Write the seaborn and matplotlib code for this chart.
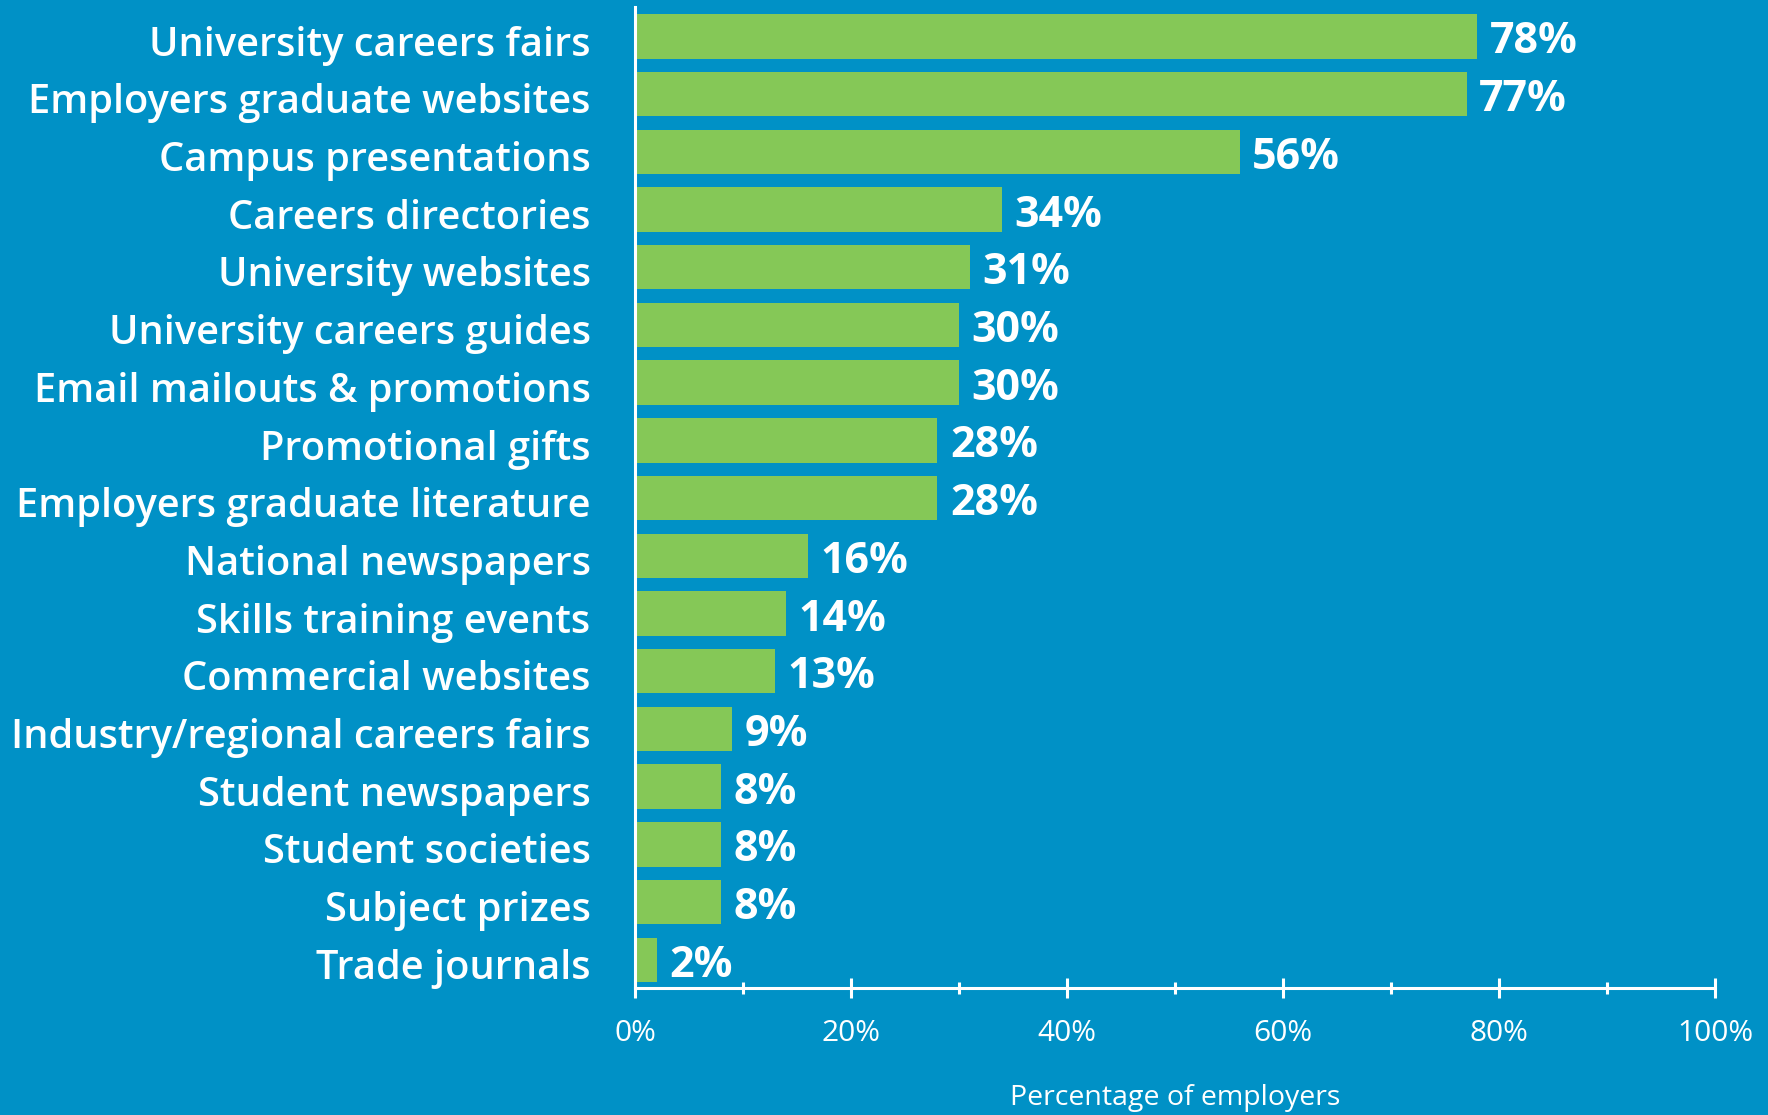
import matplotlib
matplotlib.use("Agg")
import matplotlib.pyplot as plt
import matplotlib.transforms as mtransforms
from matplotlib.ticker import MultipleLocator, FuncFormatter
import seaborn as sns
import pandas as pd

# Recruitment activities used by employers
activities = [
    "University careers fairs",
    "Employers graduate websites",
    "Campus presentations",
    "Careers directories",
    "University websites",
    "University careers guides",
    "Email mailouts & promotions",
    "Promotional gifts",
    "Employers graduate literature",
    "National newspapers",
    "Skills training events",
    "Commercial websites",
    "Industry/regional careers fairs",
    "Student newspapers",
    "Student societies",
    "Subject prizes",
    "Trade journals",
]
share_pct = [78, 77, 56, 34, 31, 30, 30, 28, 28, 16, 14, 13, 9, 8, 8, 8, 2]
x_ticks = [0, 20, 40, 60, 80, 100]
x_label = "Percentage of employers"

BG = "#0091C6"
BAR = "#85C857"
WHITE = "#FFFFFF"

df = pd.DataFrame({"activity": activities, "share": share_pct})

sns.set_theme(style="white")
plt.rcParams["font.family"] = ["Open Sans", "DejaVu Sans"]

fig, ax = plt.subplots(figsize=(17.68, 11.15), dpi=100)
fig.patch.set_facecolor(BG)
ax.set_facecolor(BG)
fig.subplots_adjust(left=635 / 1768, right=1715 / 1768, bottom=1 - 988 / 1115, top=1 - 7 / 1115)

sns.barplot(data=df, x="share", y="activity", orient="h", color=BAR,
            saturation=1, width=0.77, ax=ax, linewidth=0)

ax.set_xlim(0, 100)
ax.set_ylim(16.49, -0.51)

# Value labels at the end of each bar
for i, v in enumerate(share_pct):
    ax.annotate(f"{v}%", xy=(v, i), xytext=(9, -4), textcoords="offset points",
                ha="left", va="center", color=WHITE, fontsize=31, fontweight="bold")

# Axes styling
for side in ("top", "right"):
    ax.spines[side].set_visible(False)
for side in ("left", "bottom"):
    ax.spines[side].set_color(WHITE)
    ax.spines[side].set_linewidth(2.2)

ax.xaxis.set_major_locator(MultipleLocator(20))
ax.xaxis.set_minor_locator(MultipleLocator(10))
ax.set_xticks(x_ticks)
ax.xaxis.set_major_formatter(FuncFormatter(lambda v, _: f"{v:.0f}%"))
ax.tick_params(axis="x", which="major", direction="inout", length=15, width=2.2,
               color=WHITE, labelcolor=WHITE, labelsize=21.5, pad=15, bottom=True)
ax.tick_params(axis="x", which="minor", direction="inout", length=9, width=2.2,
               color=WHITE, bottom=True)
ax.tick_params(axis="y", length=0, pad=32, labelcolor=WHITE, labelsize=28.6)
shift = mtransforms.ScaledTranslation(0, -3 / 72, fig.dpi_scale_trans)
for lbl in ax.get_yticklabels():
    lbl.set_fontweight("semibold")
    lbl.set_transform(lbl.get_transform() + shift)

ax.set_ylabel("")
ax.set_xlabel(x_label, color=WHITE, fontsize=20.5, labelpad=26)

fig.savefig("out.png", dpi=100, facecolor=BG)
